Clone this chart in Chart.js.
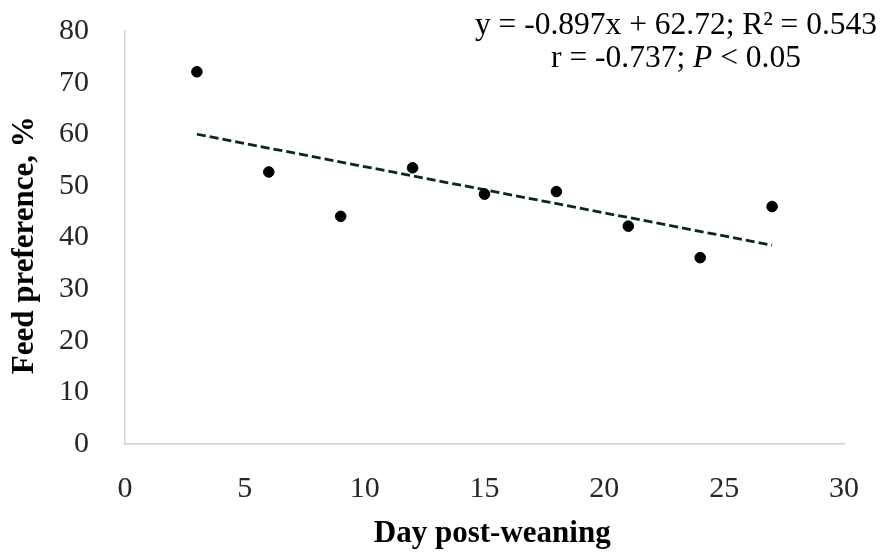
<!DOCTYPE html>
<html>
<head>
<meta charset="utf-8">
<script src="https://cdn.jsdelivr.net/npm/chart.js@4.4.1/dist/chart.umd.min.js"></script>
<style>
  html, body { margin: 0; padding: 0; background: #fff; }
  #wrap { width: 886px; height: 555px; position: relative; }
</style>
</head>
<body>
<div id="wrap"><canvas id="prefChart"></canvas></div>
<script>
// observed points
const days = [3, 6, 9, 12, 15, 18, 21, 24, 27];
const preference = [72.1, 52.7, 44.1, 53.5, 48.4, 48.9, 42.2, 36.1, 46.0];

// linear trend endpoints as drawn
const trendDays = [3, 27];
const trendValues = [60.0, 38.5];

const xTicks = [0, 5, 10, 15, 20, 25, 30];
const yTicks = [0, 10, 20, 30, 40, 50, 60, 70, 80];

const eqLine1 = 'y = -0.897x + 62.72; R² = 0.543';
const eqLine2 = ['r = -0.737; ', 'P', ' < 0.05'];

const serif = '"Liberation Serif", "Times New Roman", serif';
const axisGray = '#d0d0d0';
const tickColor = '#262626';

// draws the regression text in the top right corner
const equationText = {
  id: 'equationText',
  afterDraw(chart) {
    const ctx = chart.ctx;
    const cx = 676;
    ctx.save();
    ctx.fillStyle = '#000';
    ctx.textBaseline = 'alphabetic';
    ctx.font = '31.5px ' + serif;
    ctx.textAlign = 'center';
    ctx.fillText(eqLine1, cx, 34);

    // second line has an italic P, so draw it in pieces
    const fonts = ['31.5px ' + serif, 'italic 31.5px ' + serif, '31.5px ' + serif];
    let widths = eqLine2.map((t, i) => { ctx.font = fonts[i]; return ctx.measureText(t).width; });
    let x = cx - widths.reduce((a, b) => a + b, 0) / 2;
    ctx.textAlign = 'left';
    eqLine2.forEach((t, i) => {
      ctx.font = fonts[i];
      ctx.fillText(t, x, 67);
      x += widths[i];
    });
    ctx.restore();
  }
};

new Chart(document.getElementById('prefChart'), {
  type: 'scatter',
  data: {
    datasets: [
      {
        label: 'Feed preference',
        data: days.map((d, i) => ({ x: d, y: preference[i] })),
        backgroundColor: '#000',
        borderColor: '#000',
        pointRadius: 5.3,
        pointHoverRadius: 5.3
      },
      {
        label: 'Linear trend',
        data: trendDays.map((d, i) => ({ x: d, y: trendValues[i] })),
        showLine: true,
        borderColor: '#0b2626',
        borderWidth: 2.8,
        borderDash: [9, 4],
        pointRadius: 0,
        fill: false
      }
    ]
  },
  options: {
    responsive: true,
    maintainAspectRatio: false,
    animation: false,
    layout: { padding: { top: 31, right: 42, left: 0, bottom: 0 } },
    plugins: {
      legend: { display: false },
      tooltip: { enabled: false }
    },
    scales: {
      x: {
        type: 'linear',
        min: 0,
        max: 30,
        afterBuildTicks: axis => { axis.ticks = xTicks.map(v => ({ value: v })); },
        afterFit: axis => { axis.height = 111; axis.paddingLeft = 0; axis.paddingRight = 0; },
        grid: { display: false },
        border: { display: true, color: axisGray, width: 1.5 },
        ticks: {
          padding: 19,
          color: tickColor,
          font: { family: serif, size: 30 },
          maxRotation: 0
        },
        title: {
          display: true,
          text: '  Day post-weaning',
          color: '#000',
          font: { family: serif, size: 31, weight: 'bold' },
          padding: { top: 0, bottom: 2 }
        }
      },
      y: {
        min: 0,
        max: 80,
        afterBuildTicks: axis => { axis.ticks = yTicks.map(v => ({ value: v })); },
        afterFit: axis => { axis.width = 125; axis.paddingTop = 0; axis.paddingBottom = 0; },
        grid: { display: false },
        border: { display: true, color: axisGray, width: 1.5 },
        ticks: {
          padding: 28,
          color: tickColor,
          font: { family: serif, size: 30 }
        },
        title: {
          display: true,
          text: 'Feed preference, %  ',
          color: '#000',
          font: { family: serif, size: 31, weight: 'bold' },
          padding: { top: 6, bottom: 0 }
        }
      }
    }
  },
  plugins: [equationText]
});
</script>
</body>
</html>
